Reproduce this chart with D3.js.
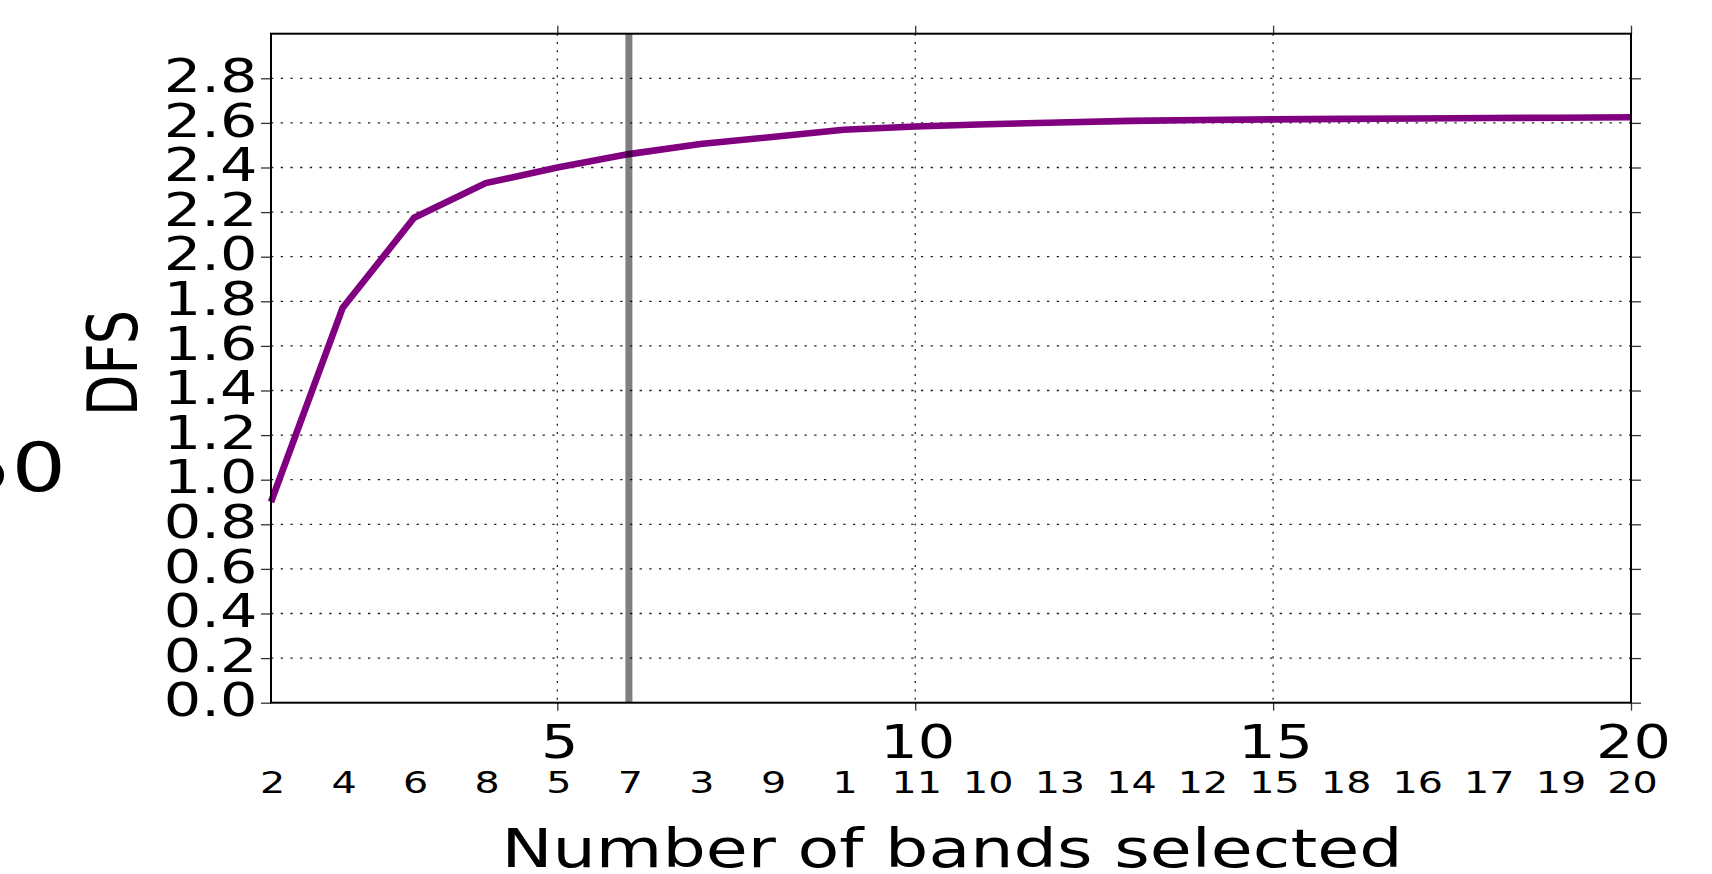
<!DOCTYPE html>
<html>
<head>
<meta charset="utf-8">
<script src="https://cdn.jsdelivr.net/npm/d3@7"></script>
<style>
  html, body { margin: 0; padding: 0; background: #fff; }
  svg { display: block; font-family: "DejaVu Sans", sans-serif; }
</style>
</head>
<body>
<svg id="chart" width="1712" height="874"></svg>
<script>
// DFS as a function of the number of selected bands
const bandCounts = [1, 2, 3, 4, 5, 6, 7, 8, 9, 10, 11, 12, 13, 14, 15, 16, 17, 18, 19, 20];
const dfsValues = [0.90, 1.77, 2.175, 2.33, 2.40, 2.46, 2.505, 2.537, 2.569, 2.584,
                   2.594, 2.602, 2.609, 2.613, 2.616, 2.618, 2.620, 2.622, 2.623, 2.625];
// band index added at each step, printed under the count axis
const bandOrder = ["2", "4", "6", "8", "5", "7", "3", "9", "1", "11",
                   "10", "13", "14", "12", "15", "18", "16", "17", "19", "20"];
const xTickValues = [5, 10, 15, 20];
const yTickValues = [0.0, 0.2, 0.4, 0.6, 0.8, 1.0, 1.2, 1.4, 1.6, 1.8, 2.0, 2.2, 2.4, 2.6, 2.8];
const chosenCount = [6];
const panelTag = ["50"];

const SX = 1.28; // horizontal text stretch
const svg = d3.select("#chart");
const plot = { left: 271, right: 1631, top: 33.7, bottom: 702.7 };

const x = d3.scaleLinear().domain([1, 20]).range([plot.left, plot.right]);
const y = d3.scaleLinear().domain([0, 3.0]).range([plot.bottom, plot.top]);

// dotted grid
const grid = svg.append("g");
grid.selectAll("line.h").data(yTickValues.filter(v => v > 0)).join("line")
  .attr("x1", plot.left).attr("x2", plot.right)
  .attr("y1", d => y(d)).attr("y2", d => y(d))
  .attr("stroke", "#222").attr("stroke-width", 1.3)
  .attr("stroke-dasharray", "2.3,7.4");
grid.selectAll("line.v").data(xTickValues.filter(v => v < 20)).join("line")
  .attr("x1", d => x(d)).attr("x2", d => x(d))
  .attr("y1", plot.top).attr("y2", plot.bottom)
  .attr("stroke", "#222").attr("stroke-width", 1.3)
  .attr("stroke-dasharray", "2,6.3");

// DFS curve
const line = d3.line().x((d, i) => x(bandCounts[i])).y(d => y(d));
svg.append("path").datum(dfsValues)
  .attr("d", line)
  .attr("fill", "none")
  .attr("stroke", "#800080")
  .attr("stroke-width", 6.6)
  .attr("stroke-linejoin", "miter");

// selected number of bands
svg.selectAll("line.sel").data(chosenCount).join("line")
  .attr("x1", d => x(d)).attr("x2", d => x(d))
  .attr("y1", plot.top).attr("y2", plot.bottom)
  .attr("stroke", "#000").attr("stroke-opacity", 0.5)
  .attr("stroke-width", 7);

// axes
function styleAxis(g) {
  g.select(".domain").remove();
  g.selectAll(".tick line").attr("stroke", "#333").attr("stroke-width", 1.3);
}
svg.append("g").attr("transform", `translate(${plot.left},0)`)
  .call(d3.axisLeft(y).tickValues(yTickValues).tickSize(10).tickFormat(d => d.toFixed(1)))
  .call(styleAxis)
  .call(g => g.selectAll(".tick text")
    .attr("x", null).attr("dy", null)
    .attr("transform", `translate(-13.5,13.2) scale(${SX},1)`)
    .attr("text-anchor", "end")
    .attr("font-size", 46).attr("fill", "#000")
    .attr("font-family", "DejaVu Sans"));
svg.append("g").attr("transform", `translate(${plot.right},0)`)
  .call(d3.axisRight(y).tickValues(yTickValues).tickSize(10).tickFormat(""))
  .call(styleAxis);
svg.append("g").attr("transform", `translate(0,${plot.top})`)
  .call(d3.axisTop(x).tickValues(xTickValues).tickSize(8).tickFormat(""))
  .call(styleAxis);
svg.append("g").attr("transform", `translate(0,${plot.bottom})`)
  .call(d3.axisBottom(x).tickValues(xTickValues).tickSize(8).tickFormat(d3.format("d")))
  .call(styleAxis)
  .call(g => g.selectAll(".tick text")
    .attr("y", null).attr("dy", null)
    .attr("transform", `translate(2,55.3) scale(${SX},1)`)
    .attr("text-anchor", "middle")
    .attr("font-size", 46).attr("fill", "#000")
    .attr("font-family", "DejaVu Sans"));

// band order labels
svg.append("g").selectAll("text").data(bandOrder).join("text")
  .attr("transform", (d, i) => `translate(${x(bandCounts[i]) + 1.5},792.7) scale(${SX},1)`)
  .attr("text-anchor", "middle")
  .attr("font-size", 31)
  .text(d => d);

// frame
svg.append("rect")
  .attr("x", plot.left).attr("y", plot.top)
  .attr("width", plot.right - plot.left).attr("height", plot.bottom - plot.top)
  .attr("fill", "none").attr("stroke", "#000").attr("stroke-width", 2);

// axis titles
svg.append("text")
  .attr("transform", `translate(${(plot.left + plot.right) / 2 + 1},867) scale(1.265,1)`)
  .attr("text-anchor", "middle").attr("font-size", 54)
  .text("Number of bands selected");
svg.append("text")
  .attr("transform", `translate(137,363) scale(1.29,1) rotate(-90)`)
  .attr("text-anchor", "middle").attr("font-size", 54)
  .text("DFS");

// neighbouring panel label, cut at the left edge
svg.selectAll("text.tag").data(panelTag).join("text")
  .attr("class", "tag")
  .attr("transform", `translate(66,490.7) scale(${SX},1)`)
  .attr("text-anchor", "end").attr("font-size", 67)
  .text(d => d);
</script>
</body>
</html>
